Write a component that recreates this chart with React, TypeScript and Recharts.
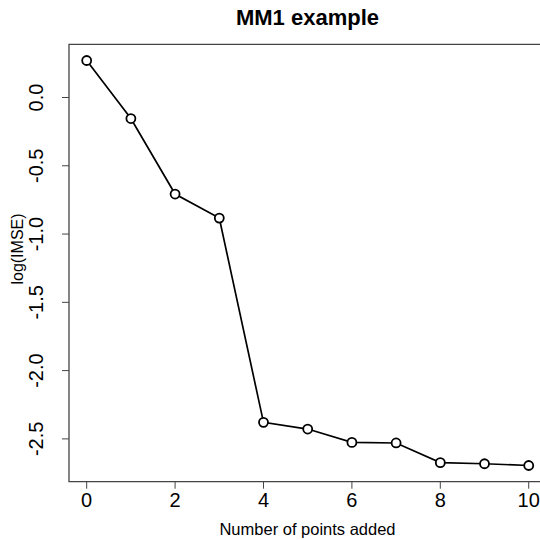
import React from "react";
import { LineChart, Line, XAxis, YAxis, ReferenceArea } from "recharts";

const pointsAdded = [0, 1, 2, 3, 4, 5, 6, 7, 8, 9, 10];
const logIMSE = [0.271, -0.154, -0.707, -0.883, -2.379, -2.428, -2.526, -2.53, -2.674, -2.682, -2.695];
const xTicks = [0, 2, 4, 6, 8, 10];
const yTicks = [0, -0.5, -1, -1.5, -2, -2.5];
const yTickLabels = ["0.0", "-0.5", "-1.0", "-1.5", "-2.0", "-2.5"];
const xDomain: [number, number] = [-0.4, 10.4];
const yDomain: [number, number] = [-2.8136, 0.3896];

const data = pointsAdded.map((x, i) => ({ x, y: logIMSE[i] }));

const FONT = "'Liberation Sans', Arial, sans-serif";
const CHART_W = 560;
const CHART_H = 540;
const PLOT_LEFT = 69;
const PLOT_RIGHT = 546.4;
const PLOT_TOP = 44.3;
const PLOT_BOTTOM = 481.7;

const YTick = (props: any) => {
  const { y, payload } = props;
  const idx = yTicks.indexOf(payload.value);
  const label = idx >= 0 ? yTickLabels[idx] : String(payload.value);
  const bx = PLOT_LEFT - 26;
  return (
    <text
      x={bx}
      y={y}
      transform={`rotate(-90, ${bx}, ${y})`}
      textAnchor="middle"
      fontFamily={FONT}
      fontSize={20}
      fill="#000"
    >
      {label}
    </text>
  );
};

const XTick = (props: any) => {
  const { x, payload } = props;
  return (
    <text
      x={x}
      y={PLOT_BOTTOM + 25}
      textAnchor="middle"
      fontFamily={FONT}
      fontSize={20}
      fill="#000"
    >
      {payload.value}
    </text>
  );
};

export default function App() {
  return (
    <div
      style={{
        position: "absolute",
        left: 0,
        top: 0,
        width: 540,
        height: 540,
        overflow: "hidden",
        background: "#fff",
      }}
    >
      <LineChart
        width={CHART_W}
        height={CHART_H}
        data={data}
        margin={{ top: PLOT_TOP, right: CHART_W - PLOT_RIGHT, bottom: 0, left: 0 }}
      >
        <XAxis
          dataKey="x"
          type="number"
          domain={xDomain}
          ticks={xTicks}
          allowDataOverflow
          height={CHART_H - PLOT_BOTTOM}
          axisLine={false}
          tickSize={7}
          tickLine={{ stroke: "#444", strokeWidth: 1 }}
          tick={<XTick />}
          interval={0}
        />
        <YAxis
          dataKey="y"
          type="number"
          domain={yDomain}
          ticks={yTicks}
          allowDataOverflow
          width={PLOT_LEFT}
          axisLine={false}
          tickSize={7}
          tickLine={{ stroke: "#444", strokeWidth: 1 }}
          tick={<YTick />}
          interval={0}
        />
        <ReferenceArea
          x1={xDomain[0]}
          x2={xDomain[1]}
          y1={yDomain[0]}
          y2={yDomain[1]}
          fill="none"
          stroke="#444"
          strokeWidth={1.3}
          ifOverflow="visible"
        />
        <Line
          type="linear"
          dataKey="y"
          stroke="#000"
          strokeWidth={1.7}
          isAnimationActive={false}
          dot={{ r: 4.5, fill: "#fff", stroke: "#000", strokeWidth: 1.8 }}
        />
      </LineChart>
      <svg
        width={540}
        height={540}
        style={{ position: "absolute", left: 0, top: 0, pointerEvents: "none" }}
      >
        <text
          x={307.5}
          y={25}
          textAnchor="middle"
          fontFamily={FONT}
          fontWeight="bold"
          fontSize={22}
          fill="#000"
        >
          MM1 example
        </text>
        <text
          x={307.5}
          y={535}
          textAnchor="middle"
          fontFamily={FONT}
          fontSize={16.5}
          fill="#000"
        >
          Number of points added
        </text>
        <text
          x={23}
          y={249}
          transform="rotate(-90, 23, 249)"
          textAnchor="middle"
          fontFamily={FONT}
          fontSize={16}
          fill="#000"
        >
          log(IMSE)
        </text>
      </svg>
    </div>
  );
}
